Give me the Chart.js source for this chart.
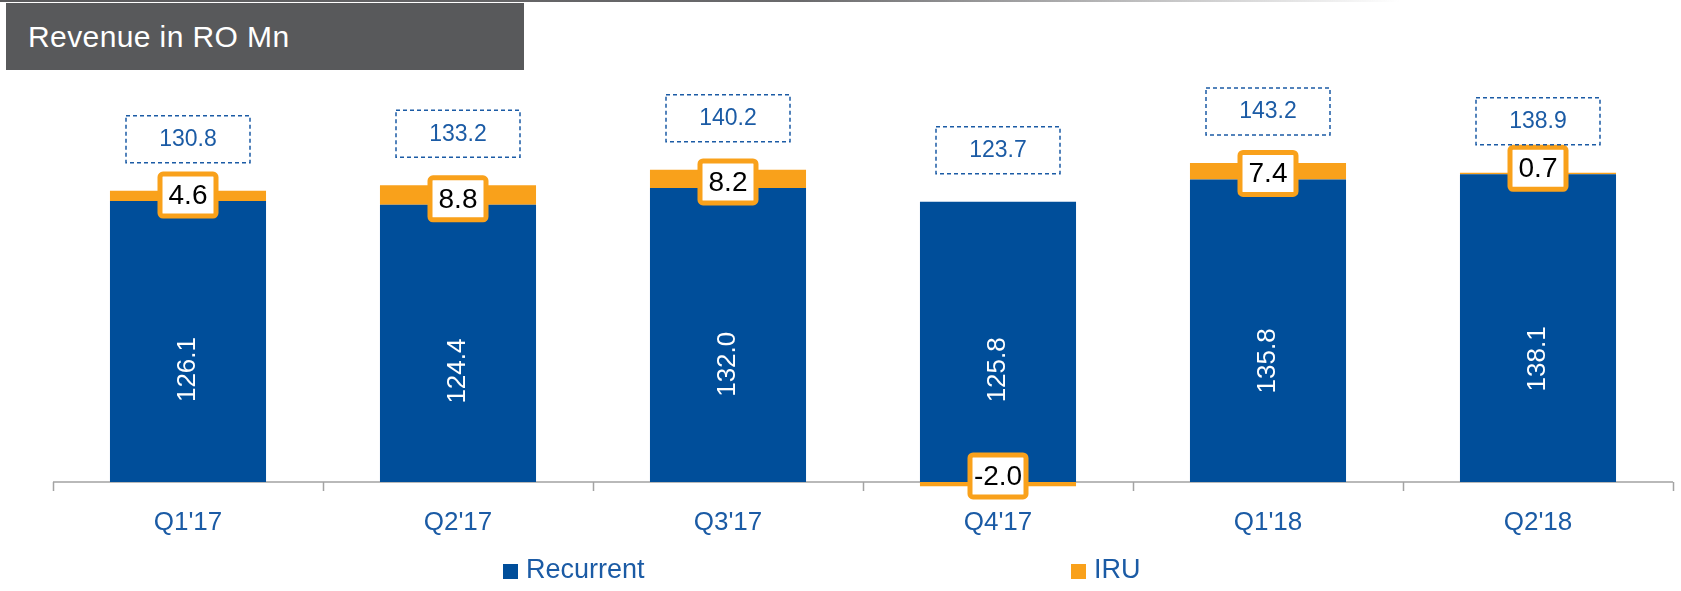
<!DOCTYPE html>
<html>
<head>
<meta charset="utf-8">
<script src="https://cdn.jsdelivr.net/npm/chart.js@4/dist/chart.umd.min.js"></script>
<style>
  body { margin: 0; background: #fff; font-family: "Liberation Sans", Arial, sans-serif; }
  #wrap { position: relative; width: 1681px; height: 591px; overflow: hidden; }
  #topline { position: absolute; left: 0; top: 0; width: 1681px; height: 2px;
    background: linear-gradient(to right, #5a5a5c 0px, #6a6a6c 800px, rgba(255,255,255,0) 1400px); }
  #title { position: absolute; left: 6px; top: 3px; width: 518px; height: 67px; background: #58595b; }
  #title span { position: absolute; left: 22px; top: 19px; color: #fff; font-size: 30px; line-height: 1; letter-spacing: 0.4px; }
  .leg { position: absolute; top: 556px; font-size: 27px; line-height: 1; color: #1b5ba5; }
  .leg i { position: absolute; top: 8px; width: 15px; height: 15px; }
  canvas { position: absolute; left: 0; top: 0; }
</style>
</head>
<body>
<div id="wrap">
  <canvas id="chart" width="1681" height="591"></canvas>
  <div id="topline"></div>
  <div id="title"><span>Revenue in RO Mn</span></div>
  <div id="legend"></div>
</div>
<script>
const categories = ["Q1'17", "Q2'17", "Q3'17", "Q4'17", "Q1'18", "Q2'18"];
const recurrent = [126.1, 124.4, 132.0, 125.8, 135.8, 138.1];
const iru = [4.6, 8.8, 8.2, -2.0, 7.4, 0.7];
const totals = [130.8, 133.2, 140.2, 123.7, 143.2, 138.9];

const BLUE = '#004e9a';
const ORANGE = '#f9a11b';
const TEXT_BLUE = '#1b5ba5';
const FONT = '"Liberation Sans", Arial, sans-serif';

// labels, axis line and boxes drawn on top of the bars
const labelsPlugin = {
  id: 'labels',
  beforeDatasetsDraw(chart) {
    const ctx = chart.ctx, x = chart.scales.x, y = chart.scales.y;
    const y0 = y.getPixelForValue(0);
    const area = chart.chartArea;
    ctx.save();
    ctx.strokeStyle = '#a3a3a3';
    ctx.lineWidth = 1.5;
    ctx.beginPath();
    ctx.moveTo(area.left, y0);
    ctx.lineTo(area.right, y0);
    for (let i = 0; i <= categories.length; i++) {
      let px;
      if (i == 0) px = area.left;
      else if (i == categories.length) px = area.right;
      else px = (x.getPixelForValue(i - 1) + x.getPixelForValue(i)) / 2;
      px = Math.round(px) + 0.5;
      ctx.moveTo(px, y0);
      ctx.lineTo(px, y0 + 9);
    }
    ctx.stroke();
    ctx.restore();
  },
  afterDatasetsDraw(chart) {
    const ctx = chart.ctx, x = chart.scales.x, y = chart.scales.y;
    ctx.save();
    categories.forEach((c, i) => {
      const cx = x.getPixelForValue(i);

      // value inside the blue bar, rotated
      ctx.save();
      ctx.translate(cx, y.getPixelForValue(recurrent[i] * 0.4));
      ctx.rotate(-Math.PI / 2);
      ctx.fillStyle = '#fff';
      ctx.font = '26px ' + FONT;
      ctx.textAlign = 'center';
      ctx.textBaseline = 'middle';
      ctx.fillText(recurrent[i].toFixed(1), 0, 0);
      ctx.restore();

      // IRU value in an orange box
      const edge = iru[i] >= 0 ? recurrent[i] : 0;
      const by = y.getPixelForValue(edge) - 6;
      ctx.fillStyle = '#fff';
      ctx.strokeStyle = ORANGE;
      ctx.lineWidth = 5;
      ctx.beginPath();
      ctx.roundRect(cx - 28, by - 21, 56, 42, 3);
      ctx.fill();
      ctx.stroke();
      ctx.fillStyle = '#000';
      ctx.font = '28px ' + FONT;
      ctx.textAlign = 'center';
      ctx.textBaseline = 'middle';
      ctx.fillText(iru[i].toFixed(1), cx, by + 1);

      // total in a dashed box above the stack
      const top = y.getPixelForValue(recurrent[i] + Math.max(iru[i], 0));
      const bottom = top - 28;
      ctx.strokeStyle = TEXT_BLUE;
      ctx.lineWidth = 1.5;
      ctx.setLineDash([4, 3]);
      ctx.strokeRect(cx - 62, bottom - 47, 124, 47);
      ctx.setLineDash([]);
      ctx.fillStyle = TEXT_BLUE;
      ctx.font = '23px ' + FONT;
      ctx.fillText(totals[i].toFixed(1), cx, bottom - 23);
    });
    ctx.restore();
  }
};

const chart = new Chart(document.getElementById('chart'), {
  type: 'bar',
  data: {
    labels: categories,
    datasets: [
      { label: 'Recurrent', data: recurrent, backgroundColor: BLUE },
      { label: 'IRU', data: iru, backgroundColor: ORANGE }
    ]
  },
  options: {
    responsive: false,
    animation: false,
    devicePixelRatio: 1,
    layout: { padding: { left: 53, right: 8, top: 81, bottom: 37 } },
    datasets: { bar: { barPercentage: 0.578, categoryPercentage: 1 } },
    plugins: { legend: { display: false }, tooltip: { enabled: false } },
    scales: {
      x: {
        stacked: true,
        grid: { display: false, drawTicks: false },
        border: { display: false },
        ticks: { color: TEXT_BLUE, font: { family: FONT, size: 26 }, padding: 16 }
      },
      y: { stacked: true, display: false, min: -4, max: 180 }
    }
  },
  plugins: [labelsPlugin]
});

// legend built from the datasets
const legend = document.getElementById('legend');
const legendLeft = [503, 1071];
chart.data.datasets.forEach((ds, i) => {
  const d = document.createElement('div');
  d.className = 'leg';
  d.style.left = legendLeft[i] + 'px';
  d.innerHTML = `<i style="left:0;background:${ds.backgroundColor}"></i><span style="margin-left:23px">${ds.label}</span>`;
  legend.appendChild(d);
});
</script>
</body>
</html>
